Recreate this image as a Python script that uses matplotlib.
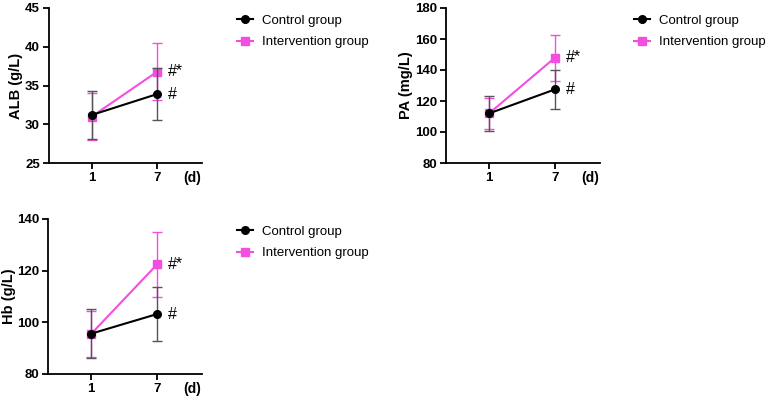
import numpy as np
import matplotlib
matplotlib.use("Agg")
import matplotlib.pyplot as plt
from matplotlib.lines import Line2D

plt.rcParams['font.family'] = ['Liberation Sans', 'DejaVu Sans']

# data (mean, sd) at day 1 and day 7
days = ["1", "7"]
alb_ctrl = [31.2, 33.9]
alb_ctrl_sd = [3.1, 3.4]
alb_int = [31.0, 36.8]
alb_int_sd = [3.0, 3.7]

pa_ctrl = [112.0, 127.5]
pa_ctrl_sd = [11.3, 12.7]
pa_int = [112.0, 148.0]
pa_int_sd = [10.0, 14.9]

hb_ctrl = [95.6, 103.2]
hb_ctrl_sd = [9.5, 10.3]
hb_int = [95.5, 122.4]
hb_int_sd = [9.0, 12.6]

pink = "#F24FE0"
x = np.arange(len(days))

fig = plt.figure(figsize=(7.67, 3.99), dpi=100)

panels = [
    # axes rect, ylabel, ylabel x, ylim, yticks, data, legend anchor
    ([49/767, 1-163/399, 153/767, 155/399], "ALB (g/L)", -0.17, (25, 45), [25, 30, 35, 40, 45],
     alb_ctrl, alb_ctrl_sd, alb_int, alb_int_sd, (0.309, 0.963)),
    ([446/767, 1-163/399, 154/767, 155/399], "PA (mg/L)", -0.214, (80, 180), [80, 100, 120, 140, 160, 180],
     pa_ctrl, pa_ctrl_sd, pa_int, pa_int_sd, (0.827, 0.963)),
    ([48/767, 1-374/399, 154/767, 155/399], "Hb (g/L)", -0.208, (80, 140), [80, 100, 120, 140],
     hb_ctrl, hb_ctrl_sd, hb_int, hb_int_sd, (0.309, 0.434)),
]

for rect, ylab, ylx, ylim, yt, c, csd, iv, isd, anchor in panels:
    ax = fig.add_axes(rect)
    ax.errorbar(x, iv, yerr=isd, color=pink, marker="s", ms=5.5, lw=1.5,
                ecolor=pink, elinewidth=1.0, capsize=3.5, capthick=1.0, zorder=2)
    ax.errorbar(x, c, yerr=csd, color="black", marker="o", ms=5.5, lw=1.5,
                ecolor="#555555", elinewidth=1.0, capsize=3.5, capthick=1.0, zorder=3)
    ax.set_xlim(-0.654, 1.682)
    ax.set_ylim(*ylim)
    ax.set_yticks(yt)
    ax.set_xticks(x)
    ax.set_xticklabels(days)
    for s in ["top", "right"]:
        ax.spines[s].set_visible(False)
    for s in ["left", "bottom"]:
        ax.spines[s].set_linewidth(1.3)
    ax.tick_params(width=1.3, length=4, labelsize=9.5, pad=2.5)
    for lab in ax.get_xticklabels() + ax.get_yticklabels():
        lab.set_fontweight("bold")
    ax.set_ylabel(ylab, fontsize=10.5, fontweight="bold")
    ax.yaxis.set_label_coords(ylx, 0.5)
    ax.text(0.935, -0.095, "(d)", transform=ax.transAxes, fontsize=10,
            fontweight="bold", ha="center", va="center")
    # significance marks
    ax.annotate("#*", (x[1], iv[1]), xytext=(7.5, 0), textcoords="offset points",
                fontsize=11.5, va="center", ha="left")
    ax.annotate("#", (x[1], c[1]), xytext=(7.5, 0), textcoords="offset points",
                fontsize=11.5, va="center", ha="left")
    handles = [Line2D([], [], color="black", marker="o", ms=5.5, lw=1.5),
               Line2D([], [], color=pink, marker="s", ms=5.5, lw=1.5)]
    ax.legend(handles, ["Control group", "Intervention group"], loc="upper left",
              bbox_to_anchor=anchor, bbox_transform=fig.transFigure, frameon=False,
              fontsize=9.5, handlelength=1.2, borderaxespad=0, borderpad=0,
              labelspacing=0.68, handletextpad=0.7)

fig.savefig("out.png", dpi=100)
